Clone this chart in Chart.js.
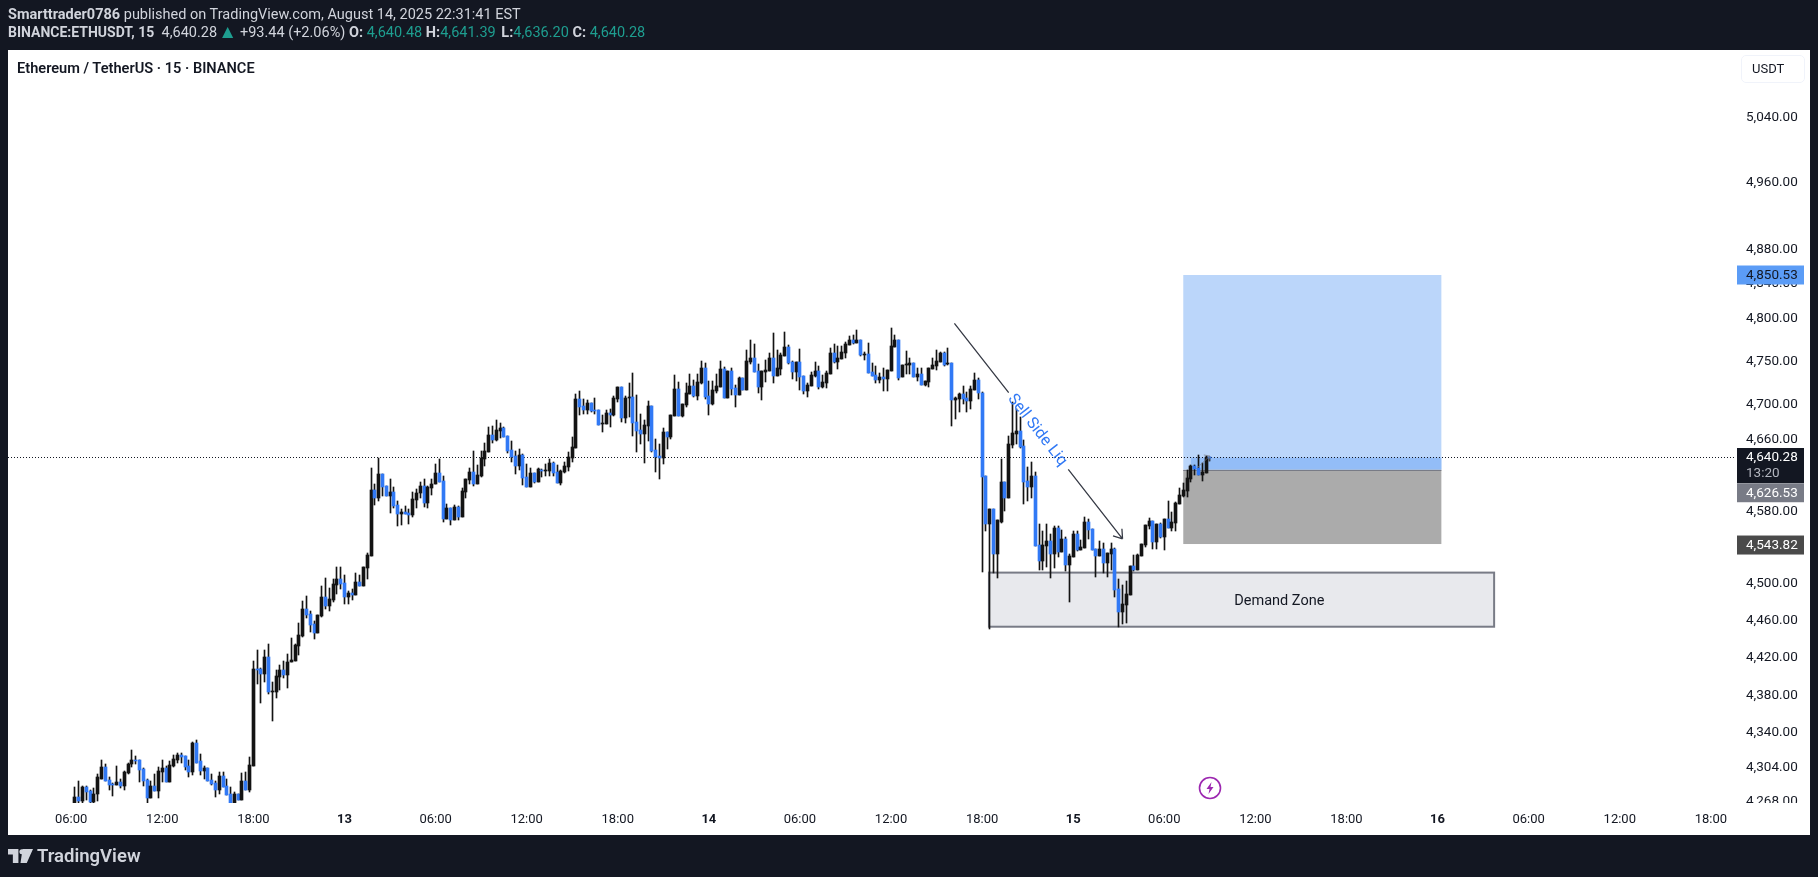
<!DOCTYPE html>
<html>
<head>
<meta charset="utf-8">
<title>ETHUSDT 15</title>
<script src="https://cdn.jsdelivr.net/npm/chart.js@4/dist/chart.umd.min.js"></script>
<style>
  html, body { margin: 0; padding: 0; width: 1818px; height: 877px; overflow: hidden; background: #131722; }
  body { position: relative; font-family: Roboto, sans-serif; }
  #panel { position: absolute; left: 8px; top: 50px; width: 1802px; height: 785px; background: #fff; }
  #chart { position: absolute; left: 0; top: 0; }
  .row { position: absolute; left: 8px; font-size: 14.5px; color: #d1d4dc; white-space: pre; }
  .row b { font-weight: 700; }
  .row i { font-style: normal; color: #1e9e90; }
  .row b.name { font-size: 14px; }
  .row .tri { font-size: 19px; line-height: 14px; vertical-align: -1px; margin: 0 3px 0 1px; }
  .row .gap { margin-left: 2px; }
  #title { position: absolute; left: 17px; top: 59px; font-size: 14.6px; font-weight: 600; color: #131722; }
  #unit { position: absolute; left: 1741px; top: 55px; width: 62px; height: 26px; border: 1px solid #f0f3fa; border-radius: 5px;
          font-size: 13px; line-height: 26px; color: #131722; text-indent: 10px; box-sizing: content-box; }
  #alert { position: absolute; left: 1198px; top: 776px; }
  #brand { position: absolute; left: 8px; top: 843px; height: 26px; display: flex; align-items: center; color: #d1d4dc; font-size: 18.5px; font-weight: 600; }
  #brand svg { margin-right: 4px; }
</style>
</head>
<body>
<div id="panel"></div>
<canvas id="chart" width="1818" height="877"></canvas>
<div class="row" style="top:6px"><b>Smarttrader0786</b> published on TradingView.com, August 14, 2025 22:31:41 EST</div>
<div class="row" style="top:24px"><b class="name">BINANCE:ETHUSDT, 15</b>  4,640.28<i class="tri">▲</i>+93.44 (+2.06%) <b>O:</b> <i>4,640.48</i> <b>H:</b><i>4,641.39</i> <b class="gap">L:</b><i>4,636.20</i> <b>C:</b> <i>4,640.28</i></div>
<div id="title">Ethereum / TetherUS · 15 · BINANCE</div>
<div id="unit">USDT</div>
<svg id="alert" width="24" height="24" viewBox="0 0 24 24">
  <circle cx="12" cy="12" r="10.5" fill="#fff" stroke="#9c27b0" stroke-width="1.6"/>
  <path d="M13.5 6 L8.5 13 H11.5 L10.5 18 L15.5 11 H12.5 Z" fill="#9c27b0"/>
</svg>
<div id="brand">
  <svg width="25" height="14" viewBox="0 0 36 20"><path d="M0 0H15V20H7V8H0Z M21 0H36L27 20H18Z" fill="#d1d4dc"/><circle cx="20" cy="4" r="3.6" fill="#d1d4dc"/></svg>
  TradingView
</div>
<script>
// 15 minute candles, the first one is the 06:15 bar
const firstCandle = 1;
const opens = [
  4262,4273,4269,4283,4279,4268,4276.5,4292,4304,4291, 4287,4286,4289,4285,4298,4307,4312,4312,4302,4291,
  4272,4285,4279,4299,4303,4289,4305,4312,4317,4316, 4305,4299,4330,4310.5,4300,4303,4291,4288,4280,4294.6,
  4285,4276.5,4262,4276.5,4270,4290,4280,4305,4408,4408, 4403,4421,4383,4383,4399,4407,4402,4415,4417,4433,
  4443.5,4473,4467.5,4456.6,4447,4465,4486,4476,4483,4499, 4505,4501,4486,4490.5,4488,4502,4498,4517,4531,4604,
  4595,4622,4608.6,4597.4,4602,4587,4577,4579.5,4578.4,4576, 4593,4600,4608.6,4589.6,4606.4,4610,4623,4614,4572,4584,
  4570.6,4585,4574,4602,4615,4624,4611,4620,4639,4647, 4666,4660,4670,4674,4664.6,4649,4642,4631,4643,4618,
  4607,4623,4612.8,4626.3,4625.2,4625.2,4634.2,4624,4611.7,4624, 4629.7,4640,4651,4707,4698.8,4694.2,4702.2,4694,4694,4678,
  4678,4690.8,4688.5,4707,4720.5,4685,4708,4709,4680.6,4671, 4667,4676,4698.8,4648.8,4642,4640,4669,4663.5,4687.4,4718,
  4687.4,4700,4712.4,4721.7,4710,4725,4742.4,4710,4701,4716, 4720.5,4741.3,4708,4739,4719.4,4711.3,4731,4717,4749.3,4754,
  4739,4720.5,4738,4739,4754,4733,4741.3,4756.2,4766.6,4749.3, 4737.8,4749.3,4733.2,4715.9,4721.7,4733.2,4739,4720.6,4725.2,4735.5,
  4759.6,4749.3,4752.7,4759.6,4768.9,4774.7,4771.2,4774.7,4757.3,4758.5, 4737.8,4734.4,4728.5,4732,4729.8,4739,4766.6,4774.7,4732,4745.9,
  4745.9,4748.2,4732,4735.5,4722.9,4726.3,4741.3,4744.7,4749.3,4759.6, 4747,4748.2,4705.6,4706.8,4712.5,4707.9,4704.5,4717.1,4728.5,4713.7,
  4619.5,4566,4582.6,4532.8,4568.2,4612.8,4595,4654.4,4667,4670.3, 4653.3,4613.9,4607.1,4619.5,4542.7,4525.1,4541.6,4547.1,4532.8,4561.5,
  4535,4549.3,4520.7,4529.5,4554.9,4537.2,4539.4,4568.2,4560.4,4538.3, 4530.6,4538.3,4522.9,4532.8,4538.3,4494.4,4469.4,4477,4487.8,4519.6,
  4515.2,4530.6,4542.7,4563.7,4569.3,4546,4566,4551.5,4571.5,4561.5, 4567,4588.2,4597.2,4602.7,4616.1,4630.7,4628.5,4620.6,4622.9,4640.48
];
const highs = [
  4283,4290,4285,4285,4280,4282,4297,4312,4308,4293.5, 4288,4305,4292,4300,4309,4322,4316,4312,4303,4292,
  4290,4297,4304,4312,4305,4310.5,4317,4319,4319,4316, 4312,4331,4333,4318,4305,4303,4297,4290,4299,4299,
  4292,4283,4278,4276.5,4298,4299,4315,4417,4428,4409, 4428,4435,4394,4407,4412,4417,4424,4441,4435,4457,
  4481.6,4487,4470,4460,4466,4498,4507,4496,4505,4518, 4519,4510,4492,4494,4512,4510,4519,4534,4629,4611,
  4640,4622,4608.6,4616.5,4607.5,4592,4583,4586,4583,4602, 4605,4613,4616.5,4608.6,4616.5,4633,4639,4619,4588.5,4584,
  4587.4,4586,4606,4616.5,4628,4648,4632,4648,4657,4675, 4676,4683,4679,4675,4664.6,4659,4648,4650,4644,4633,
  4628.5,4623,4628.5,4627.4,4633,4638.7,4635.3,4632,4626.3,4635.3, 4646.6,4663.5,4712,4716,4707,4705.6,4702.2,4708,4694,4688.5,
  4694,4695.4,4710,4720.5,4720.5,4710,4725,4737,4711,4689.7, 4683,4704.5,4698.8,4661,4655.6,4673.8,4669,4688.5,4734,4726,
  4701,4725,4735.5,4728.6,4735.5,4750,4748,4727.5,4727.5,4735.5, 4750,4743.5,4739,4742.4,4722.8,4732,4731,4763,4775,4770,
  4747,4739,4751.6,4760,4783,4763,4759.6,4784,4769,4750.4, 4749.3,4764.2,4733.2,4725.2,4737.8,4749.3,4744.7,4734.4,4739,4765.4,
  4770,4767.7,4767.7,4772.3,4779.4,4780.5,4786.4,4774.7,4760.8,4771.2, 4748.2,4744.7,4736.7,4742.4,4740.1,4788.7,4780.5,4774.7,4745.9,4762,
  4753.9,4748.2,4742.4,4742.4,4727.5,4742.4,4753.9,4763.1,4760.8,4760.8, 4765.4,4748.2,4709,4713.7,4721.7,4714.8,4721.7,4736.7,4730.9,4714.8,
  4619.5,4582.6,4582.6,4570.4,4638.6,4612.8,4664.6,4703.3,4695.3,4686.2, 4660.1,4629.6,4635.2,4624,4566,4558.2,4566,4554.9,4563.7,4563.7,
  4559.3,4551.5,4532.8,4558.2,4558.2,4548.2,4573.7,4571.5,4560.4,4538.3, 4547.1,4544.9,4533.9,4544.9,4539.4,4505.4,4498.8,4503.2,4519.6,4531.7,
  4532.8,4543.8,4564.9,4572.6,4569.3,4566,4567,4571.5,4591.6,4579.3, 4590.5,4606,4611.6,4626.2,4631.9,4631.9,4643.2,4633.7,4642,4641.39
];
const lows = [
  4258,4262,4264,4270,4263,4263,4269,4292,4290,4280, 4274,4286,4282,4280,4297,4304,4307,4289,4285,4267,
  4272,4279,4272,4289,4289,4289,4304,4309,4309,4301, 4293.5,4296,4309,4296,4292,4290,4286,4273,4276.5,4283,
  4275.5,4260,4260,4270,4270,4280,4278,4305,4392,4372, 4394,4381,4353,4377,4386,4398,4388,4415,4417,4423,
  4442.4,4463,4448,4440,4447,4464,4473,4470,4480.5,4489, 4495,4478,4478,4483,4488,4498,4498,4505,4531,4587,
  4591,4597,4597.4,4578.4,4584,4564,4565,4577,4566,4574, 4584,4595,4585,4584,4598.6,4610,4613,4568,4572,4565,
  4570.6,4570.6,4574,4595,4610,4608.6,4611,4618,4631,4647, 4657,4659,4662,4663.5,4645.4,4635,4622,4626,4609,4607,
  4607,4611.7,4612.8,4618.4,4619.5,4619.5,4619.5,4611.7,4609.4,4622.9, 4625.2,4635.3,4651,4688.5,4689.7,4689.7,4692,4689.7,4677,4669,
  4678,4675,4687.4,4703.3,4680.6,4679.3,4686,4665,4646.6,4655.6, 4634,4659,4646.6,4624,4616,4633,4650,4661.2,4687.4,4687.4,
  4686.2,4697.6,4712.4,4709,4705.6,4724,4707,4688.5,4700,4713.6, 4720.5,4708,4708,4711.3,4697.6,4711.3,4717.1,4717,4747,4738,
  4713.6,4705.6,4726,4739,4725,4733,4734.4,4756.2,4747,4729.8, 4727.5,4717.1,4712.5,4709,4721.7,4732,4718.3,4719.4,4719.4,4735.5,
  4748.2,4741.3,4752.7,4753.9,4768.9,4770,4771.2,4756.2,4751.6,4736.7, 4733.2,4725.2,4725.2,4715.9,4715.9,4739,4766.6,4728.5,4732,4735.5,
  4735.5,4732,4727.5,4722.9,4721.7,4720.6,4741.3,4740.1,4749.3,4744.7, 4745.9,4675.7,4683.8,4691.9,4701,4691.9,4695.3,4717.1,4706.8,4513,
  4558,4451.5,4512,4506.5,4567,4580.4,4595,4651,4655.6,4651, 4588.2,4591.6,4595,4541.6,4515.2,4515.2,4518.5,4506.5,4517.4,4529.5,
  4535,4514.1,4480.2,4529.5,4536.1,4537.2,4539.4,4549.3,4537.2,4507.6, 4530.6,4512,4507.6,4515.2,4485.7,4453,4456.3,4457.4,4487.8,4514.1,
  4515.2,4530.6,4540.5,4560.4,4538.3,4538.3,4550.4,4537.2,4561.5,4558.2, 4558.2,4588.2,4596,4596,4612.8,4620.6,4620.6,4613.9,4622.9,4636.2
];
const closes = [
  4273,4269,4283,4278,4268,4276.5,4293.5,4304,4290,4286, 4286,4289,4285,4299,4308,4312,4310.5,4301,4290,4272,
  4285,4279,4300,4303,4289,4306,4313,4317,4315,4304, 4299,4330,4309,4300,4303,4290,4287,4280,4294.6,4284,
  4275.5,4262,4276.5,4270,4290,4280,4306,4408,4407,4403, 4421,4383,4384,4400,4407,4402,4416,4418,4434,4445,
  4473,4466,4455.5,4447,4466,4486,4476,4484,4500,4505, 4500,4486,4490.5,4488,4502,4498,4518,4532,4604,4595,
  4622,4607.5,4597.4,4602,4586,4577,4579.5,4577,4576,4594, 4601,4608.6,4589.6,4607.5,4611,4623,4613,4572,4584,4570.6,
  4585,4574,4603,4616.5,4624,4611,4621,4640,4648,4666, 4660,4671.5,4674,4663.5,4647.7,4641,4631,4643,4617,4607,
  4623,4612.8,4627.4,4625.2,4626.3,4634.2,4623,4611.7,4625.2,4630.8, 4640.9,4652,4707,4697.6,4694.2,4702.2,4693,4693,4677,4679,
  4690.8,4688.5,4708,4720.5,4685,4708,4709,4679,4670,4667, 4677,4698.8,4647.7,4641,4639.8,4669,4663.5,4688.5,4718,4687.4,
  4701,4713.6,4721.7,4710,4726.3,4742.4,4709,4701,4717,4721.7, 4741.3,4708,4739,4718.3,4711.3,4731,4717.1,4750,4754,4738,
  4720.5,4739,4740,4754,4733,4742.4,4757.3,4766.6,4748.2,4737.8, 4749.3,4732,4715.9,4722.9,4734.4,4739,4720.6,4726.3,4736.7,4759.6,
  4749.3,4753.9,4760.8,4770,4774.7,4771.2,4774.7,4757.3,4758.5,4736.7, 4733.2,4728.5,4732,4729.8,4740.1,4767.7,4774.7,4730.9,4745.9,4747,
  4748.2,4732,4735.5,4722.9,4727.5,4742.4,4745.9,4750.4,4759.6,4745.9, 4748.2,4705.6,4707.9,4712.5,4706.8,4704.5,4718.3,4728.5,4713.7,4618.4,
  4566,4582.6,4532.8,4570.4,4612.8,4595,4655.6,4668,4670.3,4652.2, 4612.8,4607.1,4619.5,4541.6,4525.1,4542.7,4547.1,4532.8,4561.5,4535,
  4549.3,4520.7,4530.6,4554.9,4537.2,4540.5,4568.2,4559.3,4537.2,4530.6, 4538.3,4522.9,4533.9,4538.3,4493.3,4469.4,4478,4488.9,4519.6,4515.2,
  4531.7,4543.8,4564.9,4569.3,4546,4566,4551.5,4571.5,4561.5,4568.2, 4589.4,4598.3,4603.8,4617.3,4630.7,4627.3,4620.6,4624,4641,4640.28
];

// axes
const timeTickBars = [0, 24, 48, 72, 96, 120, 144, 168, 192, 216, 240, 264, 288, 312, 336, 360, 384, 408, 432];
const timeTickLabels = ['06:00', '12:00', '18:00', '13', '06:00', '12:00', '18:00', '14', '06:00', '12:00', '18:00', '15', '06:00', '12:00', '18:00', '16', '06:00', '12:00', '18:00'];
const priceTicks = [5040, 4960, 4880, 4840, 4800, 4750, 4700, 4660, 4620, 4580, 4540, 4500, 4460, 4420, 4380, 4340, 4304, 4268];

// drawing tools, in bars and prices
const lastPrice = 4640.28;
const targetPrice = 4850.53;
const entryPrice = 4626.53;
const stopPrice = 4543.82;
const positionBars = [293, 361];
const positionFillBar = 295;
const demandBars = [241.8, 374.9];
const demandPrices = [4512.4, 4453.5];
const demandLabelBar = 318.3;
const demandLabelPrice = 4481;
const arrowBars = [232.7, 247, 262.7, 277];
const arrowPrices = [4794, 4714, 4627, 4549.6];
const labelBar = 254.5;
const labelPrice = 4671;
const pathBars = [296.5, 300];
const pathPrices = [4628, 4642];

const blue = '#3179f5';
const ink = '#131313';
const money = v => v.toLocaleString('en-US', { minimumFractionDigits: 2, maximumFractionDigits: 2 });
const barAt = i => i + firstCandle;
const snap = el => {
  el.x = Math.round(el.x - 0.5) + 0.5;
  el.y = Math.round(el.y);
  el.base = Math.round(el.base);
  if (el.y === el.base) el.base = el.y + 1;
};

const toolsPlugin = {
  id: 'tools',
  beforeDatasetsDraw(chart) {
    const { ctx, chartArea: area, scales: { x, y } } = chart;
    chart.getSortedVisibleDatasetMetas().forEach(meta => meta.data.forEach(snap));

    ctx.save();
    ctx.beginPath();
    ctx.rect(area.left, area.top, area.width, area.height);
    ctx.clip();

    const left = x.getPixelForValue(positionBars[0]);
    const right = x.getPixelForValue(positionBars[1]);
    const fillLeft = x.getPixelForValue(positionFillBar);
    const target = y.getPixelForValue(targetPrice);
    const entry = y.getPixelForValue(entryPrice);
    const stop = y.getPixelForValue(stopPrice);
    const last = y.getPixelForValue(lastPrice);

    ctx.fillStyle = '#bbd6fa';
    ctx.fillRect(left, target, right - left, entry - target);
    ctx.fillStyle = '#93bdf7';
    ctx.fillRect(fillLeft, last, right - fillLeft, entry - last);
    ctx.fillStyle = '#ababab';
    ctx.fillRect(left, entry, right - left, stop - entry);
    ctx.strokeStyle = '#787b86';
    ctx.lineWidth = 1;
    ctx.beginPath();
    ctx.moveTo(left, Math.round(entry) + 0.5);
    ctx.lineTo(right, Math.round(entry) + 0.5);
    ctx.stroke();

    const dLeft = x.getPixelForValue(demandBars[0]);
    const dRight = x.getPixelForValue(demandBars[1]);
    const dTop = y.getPixelForValue(demandPrices[0]);
    const dBottom = y.getPixelForValue(demandPrices[1]);
    ctx.fillStyle = '#e8e9ed';
    ctx.fillRect(dLeft, dTop, dRight - dLeft, dBottom - dTop);
    ctx.strokeStyle = '#787b86';
    ctx.lineWidth = 2;
    ctx.strokeRect(dLeft, dTop, dRight - dLeft, dBottom - dTop);

    ctx.strokeStyle = '#131722';
    ctx.lineWidth = 1;
    ctx.setLineDash([1, 2]);
    ctx.beginPath();
    ctx.moveTo(area.left, Math.floor(last) + 0.5);
    ctx.lineTo(area.right, Math.floor(last) + 0.5);
    ctx.stroke();
    ctx.restore();
  },
  afterDatasetsDraw(chart) {
    const { ctx, scales: { x, y } } = chart;
    const ax = arrowBars.map(b => x.getPixelForValue(b));
    const ay = arrowPrices.map(p => y.getPixelForValue(p));

    ctx.save();
    ctx.strokeStyle = '#363a45';
    ctx.lineWidth = 1.3;
    ctx.beginPath();
    ctx.moveTo(ax[0], ay[0]);
    ctx.lineTo(ax[1], ay[1]);
    ctx.moveTo(ax[2], ay[2]);
    ctx.lineTo(ax[3], ay[3]);
    const angle = Math.atan2(ay[3] - ay[2], ax[3] - ax[2]);
    [-0.6, 0.6].forEach(turn => {
      ctx.moveTo(ax[3], ay[3]);
      ctx.lineTo(ax[3] - 10 * Math.cos(angle + turn), ay[3] - 10 * Math.sin(angle + turn));
    });
    ctx.stroke();

    // little path arrow of the position tool
    const px = pathBars.map(b => x.getPixelForValue(b));
    const py = pathPrices.map(p => y.getPixelForValue(p));
    ctx.strokeStyle = 'rgba(120,123,134,0.7)';
    ctx.lineWidth = 1;
    ctx.beginPath();
    ctx.moveTo(px[0], py[0]);
    ctx.lineTo(px[1], py[1]);
    ctx.lineTo(px[1] - 6, py[1] - 1);
    ctx.moveTo(px[1], py[1]);
    ctx.lineTo(px[1] - 1, py[1] + 6);
    ctx.stroke();

    ctx.fillStyle = blue;
    ctx.font = '16px Roboto, sans-serif';
    ctx.textAlign = 'center';
    ctx.textBaseline = 'middle';
    ctx.translate(x.getPixelForValue(labelBar), y.getPixelForValue(labelPrice));
    ctx.rotate(angle);
    ctx.fillText('Sell Side Liq', 0, 0);
    ctx.restore();

    ctx.save();
    ctx.fillStyle = '#131722';
    ctx.font = '14.5px Roboto, sans-serif';
    ctx.textAlign = 'center';
    ctx.textBaseline = 'middle';
    ctx.fillText('Demand Zone', x.getPixelForValue(demandLabelBar), y.getPixelForValue(demandLabelPrice));
    ctx.restore();
  },
  afterDraw(chart) {
    const { ctx, chartArea: area, scales: { y } } = chart;
    ctx.save();
    // the lowest price label is cut by the bottom of the pane
    ctx.fillStyle = '#fff';
    ctx.fillRect(area.right, area.bottom, 1810 - area.right, 32);

    const tag = (price, shift, height, bg, fg) => {
      const cy = y.getPixelForValue(price) + shift;
      ctx.fillStyle = bg;
      ctx.fillRect(area.right + 3, cy - 9.5, 67, height);
      ctx.fillStyle = fg;
      ctx.font = '13.5px Roboto, sans-serif';
      ctx.textAlign = 'left';
      ctx.textBaseline = 'middle';
      ctx.fillText(money(price), area.right + 12, cy + 0.5);
    };
    tag(targetPrice, 0, 19, '#5b9cf6', '#131722');
    tag(stopPrice, 1, 19, '#4a4a4a', '#fff');
    tag(entryPrice, 23, 19, '#787b86', '#fff');
    tag(lastPrice, 0, 35, '#131722', '#fff');
    ctx.fillStyle = '#b2b5be';
    ctx.fillText('13:20', area.right + 12, y.getPixelForValue(lastPrice) + 16);
    ctx.restore();
  }
};

new Chart(document.getElementById('chart'), {
  type: 'bar',
  data: {
    datasets: [
      {
        // wicks
        data: highs.map((h, i) => ({ x: barAt(i), y: [lows[i], h] })),
        backgroundColor: ink,
        barThickness: 1,
        order: 2
      },
      {
        // bodies
        data: opens.map((o, i) => ({ x: barAt(i), y: [o, closes[i]] })),
        backgroundColor: opens.map((o, i) => (closes[i] >= o ? ink : blue)),
        barThickness: 3,
        minBarLength: 1,
        order: 1
      }
    ]
  },
  options: {
    responsive: false,
    animation: false,
    events: [],
    grouped: false,
    layout: { padding: { left: 8, right: 8, top: 50, bottom: 42 } },
    plugins: { legend: { display: false }, tooltip: { enabled: false } },
    scales: {
      x: {
        type: 'linear',
        offset: false,
        min: -16.65,
        max: 438.1,
        grid: { display: false, drawTicks: false },
        border: { display: false },
        afterBuildTicks(scale) { scale.ticks = timeTickBars.map(value => ({ value })); },
        afterFit(scale) { scale.height = 32; },
        ticks: {
          autoSkip: false,
          maxRotation: 0,
          padding: 9,
          color: '#131722',
          font: ctx => ({
            family: 'Roboto, sans-serif',
            size: 13,
            weight: ctx.tick && timeTickLabels[timeTickBars.indexOf(ctx.tick.value)].length < 3 ? '700' : '400'
          }),
          callback: value => timeTickLabels[timeTickBars.indexOf(value)]
        }
      },
      y: {
        type: 'logarithmic',
        position: 'right',
        min: 4266.9,
        max: 5122.9,
        grid: { display: false, drawTicks: false },
        border: { display: false },
        afterBuildTicks(scale) { scale.ticks = priceTicks.map(value => ({ value })); },
        afterFit(scale) { scale.width = 76; },
        ticks: {
          autoSkip: false,
          padding: 12,
          color: '#131722',
          font: { family: 'Roboto, sans-serif', size: 13.5 },
          callback: value => money(value)
        }
      }
    }
  },
  plugins: [toolsPlugin]
});
</script>
</body>
</html>
